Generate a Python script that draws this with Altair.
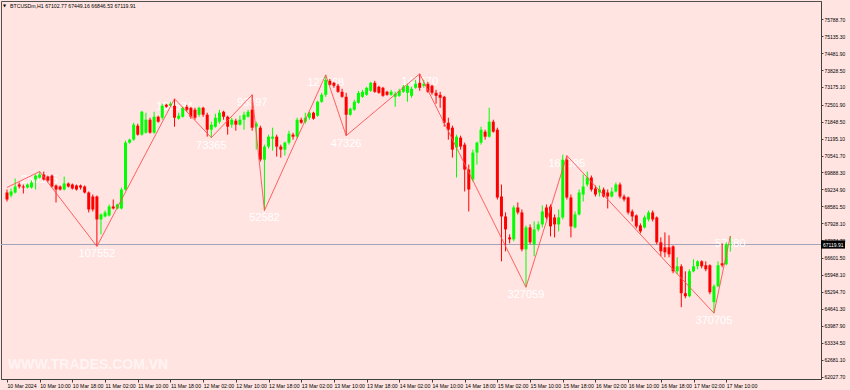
import altair as alt
import pandas as pd

# ---------------- data (BTCUSDm H1, 10 Mar 02:00 -> 17 Mar 11:00) ----------------
opens = [
    69119, 69004, 69119, 69426, 69349, 69311, 69311, 69618, 69694, 69809,
    69733, 69771, 69388, 69349, 69234, 69464, 69426, 69388, 69388, 69349,
    69119, 68966, 68966, 68084, 68199, 68238, 68583, 68506, 68506, 69234,
    71036, 71151, 71688, 71343, 71419, 71917, 71419, 72032, 71994, 72492,
    72454, 72454, 71956, 72032, 72416, 72377, 72301, 72109, 72377, 72109,
    71534, 71649, 71841, 72224, 72032, 71726, 71879, 71726, 71917, 72032,
    72301, 71649, 71611, 70384, 70883, 71189, 71266, 70883, 70768, 71036,
    71343, 71266, 71917, 71841, 71994, 72186, 72071, 72607, 72876, 73412,
    73336, 73221, 72991, 72799, 72109, 72301, 72569, 72799, 72876, 73029,
    73336, 73182, 73144, 72991, 72876, 72799, 72837, 72991, 72952, 72837,
    73144, 73336, 73221, 73297, 73221, 72952, 72876, 72799, 71802, 71611,
    70844, 71228, 70959, 70001, 69618, 70653, 71036, 71458, 71266, 71841,
    71534, 68966, 68199, 67394, 67318, 68544, 68353, 66934, 67778, 67126,
    67701, 67893, 68544, 68583, 68161, 67893, 68161, 70384, 68928, 67778,
    68276, 69043, 69426, 69694, 69273, 69119, 69234, 69119, 68966, 69158,
    69426, 68966, 68928, 68391, 68238, 67854, 67778, 68084, 68353, 68161,
    67203, 67011, 67011, 67049, 66091, 66283, 65248, 65133, 66091, 66283,
    66474, 66321, 66321, 64903, 65516, 66398, 66359, 67102.77]
highs = [
    69234, 69273, 69656, 69503, 69426, 69464, 69579, 69809, 69924, 69924,
    69771, 69809, 69426, 69388, 69733, 69503, 69464, 69426, 69426, 69388,
    69158, 69043, 69004, 68314, 68429, 68659, 68851, 68698, 69311, 71113,
    71189, 71802, 71764, 72262, 72186, 71994, 72224, 72071, 72531, 72531,
    72607, 72722, 72186, 72416, 72492, 72416, 72377, 72416, 72416, 72186,
    71841, 72147, 72301, 72262, 72071, 71994, 71956, 72071, 72224, 72301,
    72876, 71841, 71688, 70959, 71343, 71611, 71343, 70959, 71074, 71496,
    71419, 71994, 71994, 72186, 72224, 72224, 72646, 72952, 73642, 73489,
    73374, 73297, 73106, 72952, 72377, 72684, 73029, 73067, 73182, 73374,
    73412, 73221, 73182, 73029, 73067, 72991, 73106, 73259, 73297, 73182,
    73451, 73681, 73451, 73374, 73259, 73067, 72991, 72837, 71994, 71688,
    71343, 71304, 71036, 70193, 70768, 71074, 71649, 71534, 72377, 71917,
    71611, 69426, 68353, 67509, 68621, 68736, 68468, 67854, 67893, 68008,
    68008, 68621, 68659, 68659, 68276, 68468, 70576, 70538, 69043, 68391,
    69234, 69809, 69924, 69771, 69388, 69388, 69311, 69234, 69311, 69503,
    69503, 69043, 68966, 68468, 68276, 67931, 68238, 68429, 68429, 68199,
    67394, 67586, 67471, 67088, 66628, 66359, 66091, 66168, 66551, 66513,
    66513, 66474, 66359, 65593, 66474, 67164, 67203, 67449.16]
lows = [
    68774, 68928, 69081, 69273, 69081, 69273, 69273, 69234, 69656, 69579,
    69503, 69311, 68736, 69196, 69196, 69311, 69234, 69196, 69234, 69081,
    68353, 68391, 67049, 67509, 68161, 68199, 68468, 68468, 68468, 69196,
    70998, 71113, 71304, 71304, 71381, 71381, 71381, 71802, 71917, 72377,
    72416, 71649, 71917, 71994, 72224, 71956, 71917, 72032, 72032, 71266,
    71228, 71611, 71764, 71917, 71343, 71611, 71496, 71688, 71534, 71994,
    71496, 70768, 70308, 68429, 70806, 70729, 70499, 70461, 70538, 70959,
    71151, 71189, 71764, 71764, 71917, 71917, 72032, 72569, 72799, 73221,
    73144, 72952, 72761, 71304, 72071, 72262, 72531, 72761, 72837, 72991,
    72952, 72914, 72799, 72837, 72837, 72416, 72799, 72952, 72607, 72761,
    73106, 73029, 73144, 72952, 72876, 72531, 72377, 71649, 71151, 70461,
    69694, 70768, 69158, 68391, 69541, 70193, 70959, 71151, 71228, 71419,
    68851, 66474, 66858, 67164, 67241, 68276, 66858, 65478, 67126, 66666,
    67624, 67778, 68084, 67433, 67394, 67624, 68084, 68851, 67394, 67739,
    68238, 68774, 69349, 69158, 68966, 68966, 68928, 68506, 68928, 69119,
    68889, 68774, 68276, 68008, 67739, 67548, 67739, 68008, 68008, 67126,
    66666, 66628, 66628, 66014, 65976, 64711, 65056, 65094, 66053, 66168,
    66206, 66091, 65209, 64481, 65478, 66244, 66321, 66846.53]
closes = [
    68851, 69158, 69349, 69349, 69311, 69426, 69503, 69771, 69809, 69618,
    69579, 69349, 69234, 69234, 69464, 69349, 69273, 69234, 69311, 69119,
    68468, 68468, 68084, 68276, 68353, 68583, 68506, 68659, 69234, 71036,
    71151, 71726, 71343, 72224, 71917, 71419, 72032, 71841, 72454, 72416,
    72531, 71994, 72071, 72377, 72301, 72032, 71994, 72377, 72109, 71534,
    71726, 71994, 72186, 72032, 71649, 71917, 71726, 71917, 72109, 72224,
    71611, 71764, 70384, 70883, 71266, 71266, 70883, 70768, 71036, 71381,
    71266, 71917, 71802, 71994, 72186, 71956, 72607, 72876, 73451, 73259,
    73221, 72991, 72799, 72109, 72339, 72607, 72952, 72991, 73144, 73336,
    72991, 72952, 72837, 72876, 72991, 72914, 73029, 73182, 73221, 73106,
    73297, 73144, 73297, 72991, 72952, 72837, 72761, 71802, 71534, 70768,
    71266, 70883, 70001, 69234, 70653, 71036, 71534, 71266, 71841, 71458,
    68928, 68199, 67701, 67318, 68544, 68353, 66934, 67778, 67203, 67701,
    67893, 68391, 68161, 67816, 67893, 68161, 70384, 68928, 67816, 68276,
    69119, 69349, 69694, 69234, 69043, 69234, 68966, 68966, 69158, 69426,
    68966, 68851, 68353, 68199, 67816, 67624, 68161, 68353, 68084, 67203,
    66858, 66819, 66743, 66091, 66283, 65248, 65133, 66091, 66283, 66474,
    66283, 66168, 65286, 65516, 66321, 66321, 67126, 67119.91]

# zigzag pivots (bar index, price, label)
zz_bar = [0, 8, 22, 41, 50, 60, 63, 78, 83, 101, 127, 137, 173, 177]
zz_price = [69311, 69924, 67049, 72722, 71228, 72876, 68429, 73642, 71304,
            73681, 65478, 70538, 64481, 67449.16]
zz_label = ["", "255185", "107552", "166534", "73365", "93397", "52582",
            "127568", "47326", "143070", "327059", "168985", "370705", "57680"]

# axis ticks
tick_bars = [0, 8, 16, 24, 32, 40, 48, 56, 64, 72, 80, 88, 96, 104, 112, 120,
             128, 136, 144, 152, 160, 168, 176]
tick_labels = ["10 Mar 2024", "10 Mar 10:00", "10 Mar 18:00", "11 Mar 02:00",
               "11 Mar 10:00", "11 Mar 18:00", "12 Mar 02:00", "12 Mar 10:00",
               "12 Mar 18:00", "13 Mar 02:00", "13 Mar 10:00", "13 Mar 18:00",
               "14 Mar 02:00", "14 Mar 10:00", "14 Mar 18:00", "15 Mar 02:00",
               "15 Mar 10:00", "15 Mar 18:00", "16 Mar 02:00", "16 Mar 10:00",
               "16 Mar 18:00", "17 Mar 02:00", "17 Mar 10:00"]
y_ticks = [75788.70, 75135.30, 74481.90, 73828.50, 73175.10, 72501.90,
           71848.50, 71195.10, 70541.70, 69888.30, 69234.90, 68581.50,
           67928.10, 67274.70, 66601.50, 65948.10, 65294.70, 64641.30,
           63987.90, 63334.50, 62681.10, 62027.70]

symbol = "BTCUSDm,H1"
watermark = "WWW.TRADES.COM.VN"

# ---------------- frames ----------------
bars = pd.DataFrame({"bar": list(range(len(opens))), "open": opens,
                     "high": highs, "low": lows, "close": closes})
bars["dir"] = ["up" if c >= o else "down" for o, c in zip(opens, closes)]
zz = pd.DataFrame({"bar": zz_bar, "price": zz_price, "label": zz_label})
zz_lab = zz[zz["label"] != ""]
last = pd.DataFrame({"price": [closes[-1]], "txt": [f"{closes[-1]:.2f}"]})
header = pd.DataFrame({"t": [f"{symbol}  {opens[-1]:.2f} {highs[-1]:.2f} "
                             f"{lows[-1]:.2f} {closes[-1]:.2f}"]})
wm = pd.DataFrame({"t": [watermark]})

FONT = "Liberation Sans"
xscale = alt.Scale(domain=[-0.242, 197.97], nice=False, zero=False)
yscale = alt.Scale(domain=[61950, 76481], nice=False, zero=False)

label_js = "[" + ",".join("'%s'" % t for t in tick_labels) + "]"
xaxis = alt.Axis(values=tick_bars, labelExpr=f"{label_js}[round(datum.value/8)]",
                 title=None, grid=False, labelAlign="left", labelBaseline="top",
                 labelPadding=1, labelFontSize=5.2, labelFont=FONT,
                 labelColor="#000000", tickSize=3, tickColor="#404040",
                 domainColor="#404040", labelFlush=False, labelOverlap=False,
                 labelBound=False, zindex=0)
yaxis = alt.Axis(orient="right", values=y_ticks, format=".2f", title=None,
                 grid=False, labelFontSize=5, labelFont=FONT, labelColor="#000000",
                 tickSize=2, tickColor="#404040", domainColor="#404040",
                 labelPadding=1, labelOverlap=False, labelFlush=False,
                 labelBound=False, zindex=0)
color = alt.Color("dir:N", scale=alt.Scale(domain=["up", "down"],
                                           range=["#00ff00", "#ff0000"]),
                  legend=None)

X = alt.X("bar:Q", scale=xscale, axis=xaxis)

hline = alt.Chart(last).mark_rule(color="#a4a4b8", strokeWidth=1).encode(
    y=alt.Y("price:Q", scale=yscale, axis=yaxis))

zz_text = alt.Chart(zz_lab).mark_text(
    align="center", baseline="top", dy=2, fontSize=11, font=FONT,
    color="#ffffff").encode(
    x=X, y=alt.Y("price:Q", scale=yscale, axis=yaxis), text="label:N")

wicks = alt.Chart(bars).mark_rule(strokeWidth=1).encode(
    x=X, y=alt.Y("low:Q", scale=yscale, axis=yaxis), y2="high:Q", color=color)

bodies = alt.Chart(bars).mark_bar(size=3).encode(
    x=X, y=alt.Y("open:Q", scale=yscale, axis=yaxis), y2="close:Q", color=color)

zz_line = alt.Chart(zz).mark_line(color="#ff5050", strokeWidth=0.9).encode(
    x=X, y=alt.Y("price:Q", scale=yscale, axis=yaxis), order="bar:Q")

wm_text = alt.Chart(wm).mark_text(
    align="left", baseline="middle", fontSize=14, fontWeight="bold", font=FONT,
    color="#ffffff", opacity=0.6).encode(
    x=alt.value(7), y=alt.value(364), text="t:N")

head_tri = alt.Chart(header).mark_text(
    align="left", baseline="middle", fontSize=4, font="DejaVu Sans",
    color="#000000").encode(x=alt.value(2), y=alt.value(5), text=alt.value("▼"))

head_text = alt.Chart(header).mark_text(
    align="left", baseline="middle", fontSize=5.2, font=FONT,
    color="#000000").encode(x=alt.value(9), y=alt.value(5), text="t:N")

box = alt.Chart(last).mark_point(
    shape="M-1,-0.34L1,-0.34L1,0.34L-1,0.34Z", size=576, filled=True,
    color="#000000", opacity=1).encode(
    x=alt.value(832), y=alt.Y("price:Q", scale=yscale, axis=yaxis))

box_text = alt.Chart(last).mark_text(
    align="left", baseline="middle", fontSize=5, font=FONT,
    color="#ffffff").encode(
    x=alt.value(822), y=alt.Y("price:Q", scale=yscale, axis=yaxis), text="txt:N")

chart = alt.layer(
    hline, zz_text, wicks, bodies, zz_line, wm_text, head_tri, head_text,
    box, box_text
).properties(
    width=820, height=378, background="#ffe4e1",
    autosize=alt.AutoSizeParams(type="none"),
    padding={"left": 1, "top": 1, "right": 29, "bottom": 11}
).configure_view(stroke="#505050", strokeWidth=1, fill="#ffe4e1")

chart.save("out.html", embed_options={"renderer": "svg", "actions": False})
